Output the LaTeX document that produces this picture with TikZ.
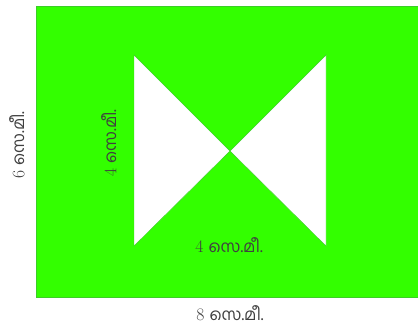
\documentclass[tikz,border=0pt]{standalone}
\usepackage{fontspec}
\newfontfamily\malfont[Script=Malayalam]{Hind Kochi}
\usetikzlibrary{positioning}
\definecolor{brightgreen}{RGB}{51,255,0}
\definecolor{edgegreen}{RGB}{60,205,40}
\newcommand{\semi}[1]{{\fontsize{15}{17}\selectfont #1}~{\malfont സെ.മീ.}}

\begin{document}
\begin{tikzpicture}[
   x=0.03cm, y=-0.03cm,
   sheet/.style={fill=brightgreen,draw=edgegreen,line width=0.6pt},
   hole/.style={fill=white,draw=edgegreen,line width=0.4pt,line join=miter},
   dimlabel/.style={font=\fontsize{14}{16}\selectfont,text=black!75,inner sep=0pt},
   ]
\useasboundingbox (0,0) rectangle (418,329);
%% Green sheet
\draw[sheet] (36,6) rectangle (419,297);
%% Corners of the bow tie
\coordinate (tl) at (134,55);
\coordinate (bl) at (134,246);
\coordinate (tr) at (326,55);
\coordinate (br) at (326,246);
\coordinate (mid) at (230,151);
%% White triangles
\draw[hole] (tl) -- (mid) -- (bl) -- cycle;
\draw[hole] (tr) -- (mid) -- (br) -- cycle;
%% Measures
\node[dimlabel,rotate=90] (side) at (17,145) {\semi{6}};
\node[dimlabel,rotate=90] (tri) at (109,143) {\semi{4}};
\node[dimlabel] (base) at (229,245) {\semi{4}};
\node[dimlabel] (len) at (230,313) {\semi{8}};
\end{tikzpicture}
\end{document}
